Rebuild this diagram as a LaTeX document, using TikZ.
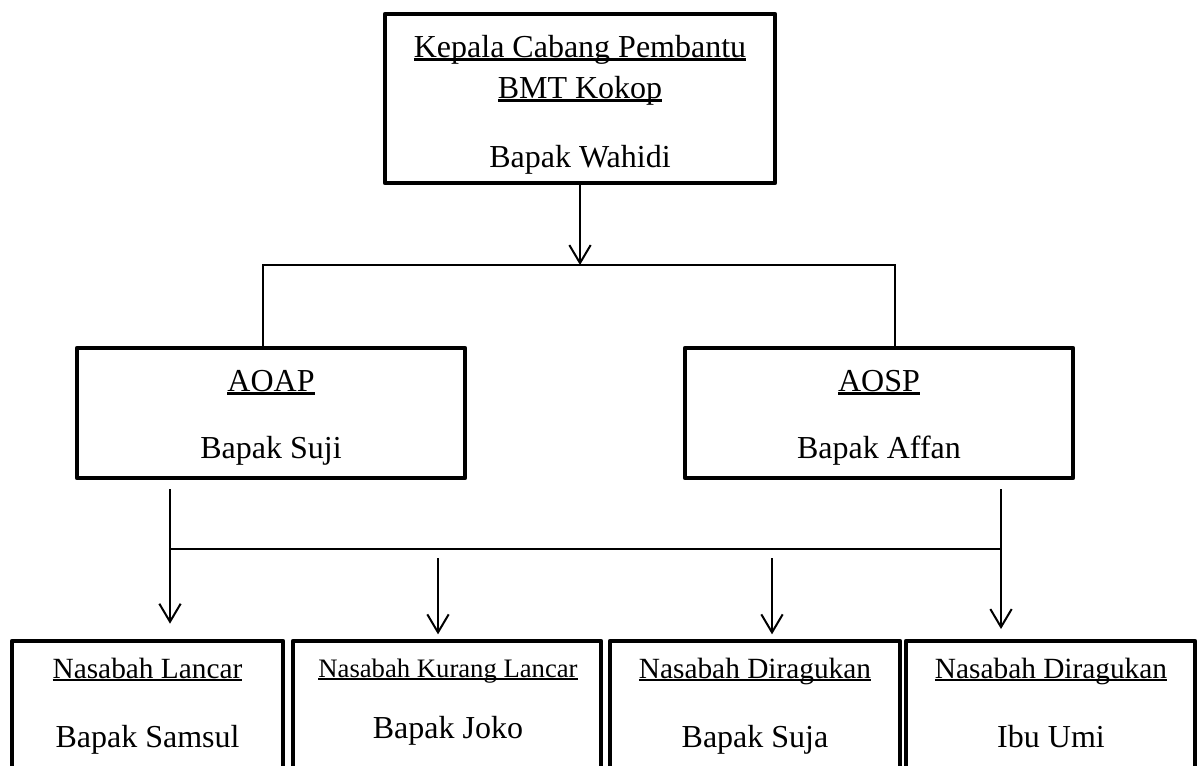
\documentclass[tikz,border=0pt]{standalone}
\usepackage{fontspec}
\setmainfont{Liberation Serif}
\usetikzlibrary{arrows.meta,calc}
\newcommand\ulx[1]{\setbox0=\hbox{#1}\rlap{\rule[-0.11em]{\wd0}{0.065em}}\box0}
\newcommand\bigsz{\fontsize{24pt}{28pt}\selectfont}
\newcommand\midsz{\fontsize{22pt}{26pt}\selectfont}
\newcommand\smlsz{\fontsize{20pt}{24pt}\selectfont}
\begin{document}
\begin{tikzpicture}[x=0.75pt,y=-0.75pt,
  box/.style={draw,line width=3.6pt,line join=round,inner sep=0pt,outer sep=0pt},
  txt/.style={inner sep=0pt,outer sep=0pt,anchor=base},
  conn/.style={draw,line width=1.5pt},
  arr/.style={conn,-{Straight Barb[length=13.5pt,width=16pt,line width=1.5pt]}}]
\useasboundingbox (0,0) rectangle (1198,765);
\clip (0,0) rectangle (1198,765);
\fill[white] (0,0) rectangle (1198,765);

% boxes
\node[box,minimum width=390*0.75pt,minimum height=169*0.75pt] (top) at (580,98.5) {};
\node[box,minimum width=388*0.75pt,minimum height=130*0.75pt] (aoap) at (271,413) {};
\node[box,minimum width=388*0.75pt,minimum height=130*0.75pt] (aosp) at (879,413) {};
\node[box,minimum width=271*0.75pt,minimum height=190*0.75pt] (b1) at (147.5,736) {};
\node[box,minimum width=308*0.75pt,minimum height=190*0.75pt] (b2) at (447,736) {};
\node[box,minimum width=290*0.75pt,minimum height=190*0.75pt] (b3) at (755,736) {};
\node[box,minimum width=289*0.75pt,minimum height=190*0.75pt] (b4) at (1050.5,736) {};

% texts
\node[txt] (t1) at (580,57) {\bigsz\ulx{Kepala Cabang Pembantu}};
\node[txt] (t2) at (580,98) {\bigsz\ulx{BMT Kokop}};
\node[txt] (t3) at (580,167) {\bigsz Bapak Wahidi};
\node[txt] (a1) at (271,391) {\bigsz\ulx{AOAP}};
\node[txt] (a2) at (271,458) {\bigsz Bapak Suji};
\node[txt] (s1) at (879,391) {\bigsz\ulx{AOSP}};
\node[txt] (s2) at (879,458) {\bigsz Bapak Affan};
\node[txt] (n1) at (147.5,678) {\midsz\ulx{Nasabah Lancar}};
\node[txt] (p1) at (147.5,747) {\bigsz Bapak Samsul};
\node[txt] (n2) at (448,677) {\smlsz\ulx{Nasabah Kurang Lancar}};
\node[txt] (p2) at (448,738) {\bigsz Bapak Joko};
\node[txt] (n3) at (755,678) {\midsz\ulx{Nasabah Diragukan}};
\node[txt] (p3) at (755,747) {\bigsz Bapak Suja};
\node[txt] (n4) at (1051,678) {\midsz\ulx{Nasabah Diragukan}};
\node[txt] (p4) at (1051,747) {\bigsz Ibu Umi};

% upper connectors
\coordinate (jt) at (580,265);
\coordinate (jl) at (263,265);
\coordinate (jr) at (895,265);
\draw[arr] (top.south) -- (jt);
\draw[conn] (aoap.north -| jl) -- (jl) -- (jr) -- (aosp.north -| jr);

% lower connectors
\coordinate (bl) at (170,489);
\coordinate (br) at (1001,489);
\coordinate (hl) at (170,549);
\coordinate (hr) at (1001,549);
\coordinate (m2) at (438,558);
\coordinate (m3) at (772,558);
\draw[arr,shorten >=13pt] (bl) -- (bl |- b1.north);
\draw[arr,shorten >=9pt] (br) -- (br |- b4.north);
\draw[conn] (hl) -- (hr);
\draw[arr,shorten >=5pt] (m2) -- (m2 |- b2.north);
\draw[arr,shorten >=5pt] (m3) -- (m3 |- b3.north);
\end{tikzpicture}
\end{document}
